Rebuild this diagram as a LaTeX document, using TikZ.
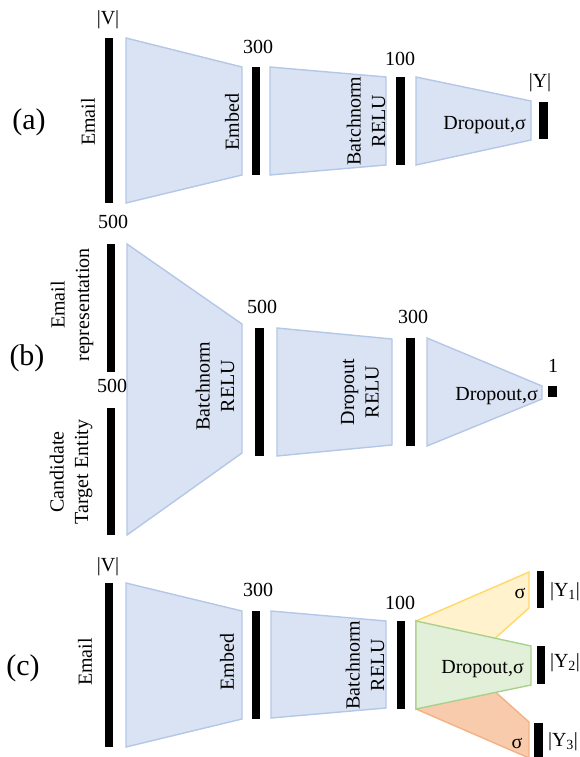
\documentclass[tikz,border=0pt]{standalone}
\usepackage{fontspec}
\setmainfont{Liberation Serif}
\definecolor{bfill}{HTML}{DAE3F3}
\definecolor{bline}{HTML}{B4C7E7}
\definecolor{yfill}{HTML}{FFF2CC}
\definecolor{yline}{HTML}{FFD966}
\definecolor{gfill}{HTML}{E2F0D9}
\definecolor{gline}{HTML}{A9D18E}
\definecolor{ofill}{HTML}{F8CBAD}
\definecolor{oline}{HTML}{F4B183}
\begin{document}
\begin{tikzpicture}[x=1pt,y=-1pt,
  bar/.style={fill=black},
  blu/.style={fill=bfill,draw=bline,line width=1.4pt},
  yel/.style={fill=yfill,draw=yline,line width=1.4pt},
  grn/.style={fill=gfill,draw=gline,line width=1.4pt},
  org/.style={fill=ofill,draw=oline,line width=1.4pt},
  txt/.style={font=\fontsize{20}{24.5}\selectfont, inner sep=0pt},
  rtxt/.style={txt, rotate=90, align=center},
  tag/.style={font=\fontsize{30}{32}\selectfont, inner sep=0pt}]
\useasboundingbox (0,0) rectangle (579,757);
\clip (0,0) rectangle (579,757);
% ---------------- (a)
\fill[bar] (105,38) rectangle (113,203);
\filldraw[blu] (126,38) -- (242,67) -- (242,175) -- (126,203) -- cycle;
\fill[bar] (252,67) rectangle (260,175);
\filldraw[blu] (270,67) -- (386,77) -- (386,165) -- (270,175) -- cycle;
\fill[bar] (396,77) rectangle (405,165);
\filldraw[blu] (416,77) -- (531,101) -- (531,140) -- (416,165) -- cycle;
\fill[bar] (539,102) rectangle (548,139);
\node[txt] (aV) at (108,20) {|V|};
\node[txt] (a300) at (258,47) {300};
\node[txt] (a100) at (400,59) {100};
\node[txt] (aY) at (540,83) {|Y|};
\node[rtxt] (aEmail) at (88,122) {Email};
\node[rtxt] (aEmbed) at (232,122) {Embed};
\node[rtxt] (aBR) at (366,121) {Batchnorm\\RELU};
\node[txt, anchor=base east] (aDrop) at (526,129) {Dropout,σ};
\node[tag] (a) at (29,122) {(a)};
% ---------------- (b)
\fill[bar] (107,244) rectangle (115,372);
\fill[bar] (107,408) rectangle (115,535);
\filldraw[blu] (127,244) -- (242,324) -- (242,453) -- (127,535) -- cycle;
\fill[bar] (255,328) rectangle (264,456);
\filldraw[blu] (277,328) -- (392,339) -- (392,445) -- (277,456) -- cycle;
\fill[bar] (406,338) rectangle (415,446);
\filldraw[blu] (427,338) -- (542,386) -- (542,399) -- (427,446) -- cycle;
\fill[bar] (548,386) rectangle (557,397);
\node[txt] (b500a) at (113,222) {500};
\node[txt] (b500b) at (112,386) {500};
\node[txt] (b500c) at (262,307) {500};
\node[txt] (b300) at (413,317) {300};
\node[txt] (b1) at (553,366) {1};
\node[rtxt] (bEmail) at (72,305) {Email\\representation};
\node[rtxt] (bCand) at (71,472) {Candidate\\Target Entity};
\node[rtxt] (bBR) at (215,386) {Batchnorm\\RELU};
\node[rtxt] (bDR) at (360,392) {Dropout\\RELU};
\node[txt, anchor=base east] (bDrop) at (538,400) {Dropout,σ};
\node[tag] (b) at (27,358) {(b)};
% ---------------- (c)
\fill[bar] (105,583) rectangle (113,747);
\filldraw[blu] (126,583) -- (242,611) -- (242,719) -- (126,747) -- cycle;
\fill[bar] (252,611) rectangle (260,719);
\filldraw[blu] (271,611) -- (386,621) -- (386,708) -- (271,718) -- cycle;
\fill[bar] (397,621) rectangle (405,709);
\filldraw[yel] (416,621) -- (529,572) -- (529,608) -- (416,709) -- cycle;
\filldraw[org] (416,621) -- (529,722) -- (529,758) -- (416,709) -- cycle;
\filldraw[grn] (416,621) -- (531,646) -- (531,685) -- (416,709) -- cycle;
\fill[bar] (537,571) rectangle (544,608);
\fill[bar] (537,646) rectangle (545,684);
\fill[bar] (534,723) rectangle (543,759);
\node[txt] (cV) at (108,567) {|V|};
\node[txt] (c300) at (258,590) {300};
\node[txt] (c100) at (400,603) {100};
\node[rtxt] (cEmail) at (85,662) {Email};
\node[rtxt] (cEmbed) at (227,662) {Embed};
\node[rtxt] (cBR) at (365,665) {Batchnorm\\RELU};
\node[txt, anchor=base east] (cDrop) at (524,673) {Dropout,σ};
\node[txt, anchor=base] (cs1) at (520,598) {σ};
\node[txt, anchor=base] (cs3) at (517,748) {σ};
\node[txt] (cY1) at (565,592) {|Y\textsubscript{1}|};
\node[txt] (cY2) at (565,663) {|Y\textsubscript{2}|};
\node[txt] (cY3) at (563,742) {|Y\textsubscript{3}|};
\node[tag] (c) at (23,668) {(c)};
\end{tikzpicture}
\end{document}
